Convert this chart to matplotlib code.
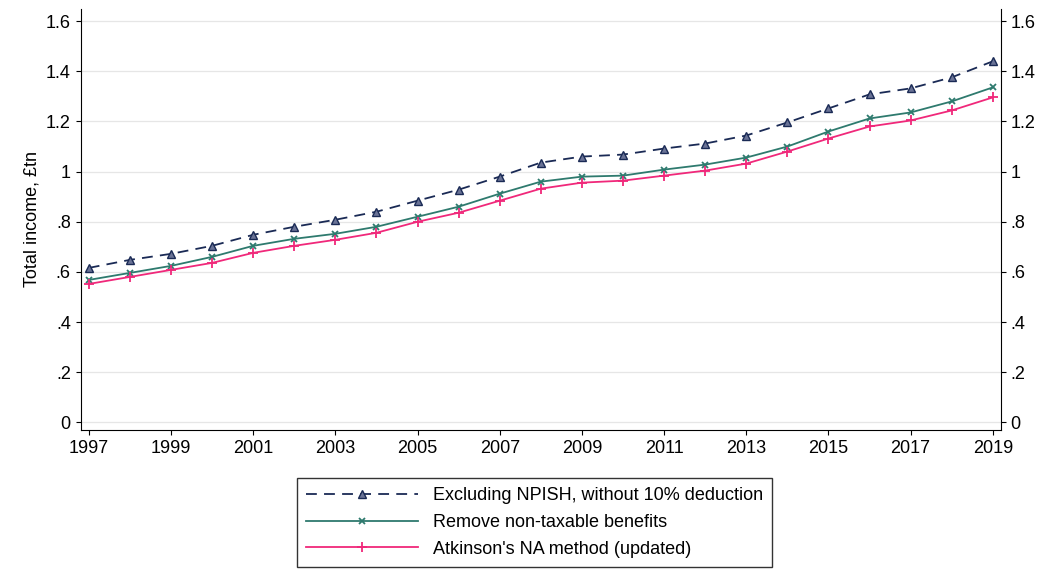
import numpy as np
import matplotlib
matplotlib.use("Agg")
import matplotlib.pyplot as plt

years = np.arange(1997, 2020)
excl_npish = [0.616, 0.648, 0.672, 0.704, 0.748, 0.780, 0.808, 0.840, 0.884, 0.928, 0.980,
              1.036, 1.060, 1.068, 1.092, 1.112, 1.144, 1.196, 1.252, 1.308, 1.332, 1.376, 1.440]
remove_ntb = [0.568, 0.596, 0.624, 0.660, 0.704, 0.732, 0.752, 0.780, 0.820, 0.860, 0.912,
              0.960, 0.980, 0.984, 1.008, 1.028, 1.056, 1.100, 1.160, 1.212, 1.236, 1.280, 1.336]
atkinson = [0.552, 0.580, 0.608, 0.636, 0.676, 0.704, 0.728, 0.756, 0.800, 0.836, 0.884,
            0.932, 0.956, 0.964, 0.984, 1.004, 1.032, 1.080, 1.132, 1.180, 1.204, 1.244, 1.296]

yticks = np.arange(0, 1.61, 0.2)
ylabels = ["0", ".2", ".4", ".6", ".8", "1", "1.2", "1.4", "1.6"]

plt.rcParams["font.family"] = ["Liberation Sans", "DejaVu Sans"]
fig = plt.figure(figsize=(10.46, 5.77), dpi=100)
ax = fig.add_axes([0.077, 0.255, 0.88, 0.73])

ax.plot(years, excl_npish, color="#1a2a55", lw=1.3, dashes=(6, 4), marker="^", ms=6,
        mfc="#6a7396", mec="#1a2a55", label="Excluding NPISH, without 10% deduction")
ax.plot(years, remove_ntb, color="#2e7a6e", lw=1.3, marker="x", ms=5, mew=1.3,
        label="Remove non-taxable benefits")
ax.plot(years, atkinson, color="#f0287a", lw=1.3, marker="+", ms=7, mew=1.3,
        label="Atkinson's NA method (updated)")

ax.set_xlim(1996.8, 2019.2)
ax.set_ylim(-0.03, 1.65)
ax.set_xticks(np.arange(1997, 2020, 2))
ax.set_yticks(yticks)
ax.set_yticklabels(ylabels)
ax.tick_params(labelsize=13, right=True, labelright=True, direction="out")
ax.grid(axis="y", color="#e6e6e6", lw=0.9)
ax.set_axisbelow(True)
ax.spines["top"].set_visible(False)
ax.set_ylabel("Total income, £tn", fontsize=13)

fig.legend(loc="lower center", bbox_to_anchor=(0.511, 0.002), fontsize=13,
           frameon=True, fancybox=False, edgecolor="black", handlelength=6.2,
           borderpad=0.5, labelspacing=0.55)
fig.savefig("out.png", dpi=100, facecolor="white")
